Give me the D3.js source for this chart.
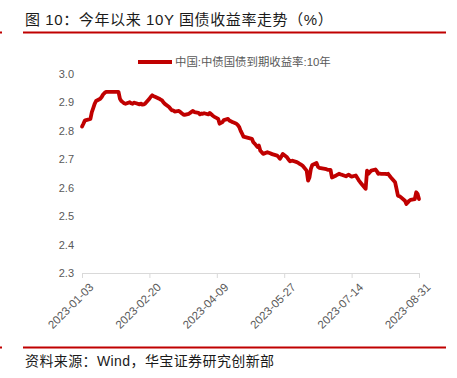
<!DOCTYPE html>
<html>
<head>
<meta charset="utf-8">
<script src="https://cdn.jsdelivr.net/npm/d3@7"></script>
<style>
  body { margin: 0; background: #fff; }
  svg { display: block; font-family: "Liberation Sans", Arial, "Noto Sans CJK SC", sans-serif; }
</style>
</head>
<body>
<div id="chart"></div>
<script>
var title = "图 10：今年以来 10Y 国债收益率走势（%）";
var source = "资料来源：Wind，华宝证券研究创新部";
var seriesName = "中国:中债国债到期收益率:10年";

var yTicks = [2.3, 2.4, 2.5, 2.6, 2.7, 2.8, 2.9, 3.0];
var xTicks = ["2023-01-03", "2023-02-20", "2023-04-09", "2023-05-27", "2023-07-14", "2023-08-31"];

var dates = [
  "2023-01-03","2023-01-04","2023-01-05","2023-01-06","2023-01-09","2023-01-10","2023-01-11","2023-01-12","2023-01-13",
  "2023-01-16","2023-01-17","2023-01-18","2023-01-19","2023-01-20","2023-01-28","2023-01-29","2023-01-30","2023-01-31",
  "2023-02-01","2023-02-02","2023-02-03","2023-02-06","2023-02-07","2023-02-08","2023-02-09","2023-02-10","2023-02-13",
  "2023-02-14","2023-02-15","2023-02-16","2023-02-17","2023-02-20","2023-02-21","2023-02-22","2023-02-23","2023-02-24",
  "2023-02-27","2023-02-28","2023-03-01","2023-03-02","2023-03-03","2023-03-06","2023-03-07","2023-03-08","2023-03-09",
  "2023-03-10","2023-03-13","2023-03-14","2023-03-15","2023-03-16","2023-03-17","2023-03-20","2023-03-21","2023-03-22",
  "2023-03-23","2023-03-24","2023-03-27","2023-03-28","2023-03-29","2023-03-30","2023-03-31","2023-04-03","2023-04-04",
  "2023-04-06","2023-04-07","2023-04-10","2023-04-11","2023-04-12","2023-04-13","2023-04-14","2023-04-17","2023-04-18",
  "2023-04-19","2023-04-20","2023-04-21","2023-04-23","2023-04-24","2023-04-25","2023-04-26","2023-04-27","2023-04-28",
  "2023-05-04","2023-05-05","2023-05-06","2023-05-08","2023-05-09","2023-05-10","2023-05-11","2023-05-12","2023-05-15",
  "2023-05-16","2023-05-17","2023-05-18","2023-05-19","2023-05-22","2023-05-23","2023-05-24","2023-05-25","2023-05-26",
  "2023-05-29","2023-05-30","2023-05-31","2023-06-01","2023-06-02","2023-06-05","2023-06-06","2023-06-07","2023-06-08",
  "2023-06-09","2023-06-12","2023-06-13","2023-06-14","2023-06-15","2023-06-16","2023-06-19","2023-06-20","2023-06-21",
  "2023-06-25","2023-06-26","2023-06-27","2023-06-28","2023-06-29","2023-06-30","2023-07-03","2023-07-04","2023-07-05",
  "2023-07-06","2023-07-07","2023-07-10","2023-07-11","2023-07-12","2023-07-13","2023-07-14","2023-07-17","2023-07-18",
  "2023-07-19","2023-07-20","2023-07-21","2023-07-24","2023-07-25","2023-07-26","2023-07-27","2023-07-28","2023-07-31",
  "2023-08-01","2023-08-02","2023-08-03","2023-08-04","2023-08-07","2023-08-08","2023-08-09","2023-08-10","2023-08-11",
  "2023-08-14","2023-08-15","2023-08-16","2023-08-17","2023-08-18","2023-08-21","2023-08-22","2023-08-23","2023-08-24",
  "2023-08-25","2023-08-28","2023-08-29","2023-08-30","2023-08-31"
];

var yields = [
  2.815,2.825,2.836,2.838,2.842,2.866,2.880,2.895,2.905,
  2.913,2.919,2.928,2.933,2.937,2.937,2.937,2.913,2.905,
  2.901,2.897,2.895,2.901,2.897,2.895,2.899,2.898,2.893,
  2.896,2.892,2.893,2.896,2.913,2.920,2.925,2.922,2.920,
  2.913,2.910,2.907,2.900,2.895,2.884,2.878,2.872,2.872,
  2.868,2.870,2.866,2.862,2.858,2.856,2.860,2.863,2.867,
  2.870,2.866,2.863,2.858,2.861,2.860,2.862,2.858,2.863,
  2.854,2.850,2.842,2.825,2.828,2.831,2.838,2.842,2.836,
  2.834,2.831,2.829,2.825,2.820,2.813,2.800,2.790,2.780,
  2.772,2.760,2.755,2.743,2.748,2.730,2.725,2.719,2.725,
  2.723,2.721,2.719,2.717,2.713,2.708,2.702,2.710,2.719,
  2.707,2.700,2.693,2.694,2.695,2.690,2.687,2.684,2.681,
  2.678,2.660,2.625,2.636,2.666,2.680,2.687,2.674,2.670,
  2.666,2.665,2.663,2.663,2.663,2.636,2.643,2.646,2.649,
  2.647,2.646,2.640,2.643,2.646,2.642,2.639,2.643,2.635,
  2.627,2.620,2.614,2.596,2.660,2.649,2.655,2.660,2.664,
  2.658,2.649,2.650,2.649,2.649,2.648,2.649,2.642,2.636,
  2.619,2.596,2.572,2.570,2.567,2.554,2.543,2.548,2.554,
  2.557,2.560,2.584,2.578,2.560
];

var width = 457, height = 378;
var red = "#c00000", gray = "#595959";
var parse = d3.timeParse("%Y-%m-%d");

var svg = d3.select("#chart")
  .append("svg")
    .attr("width", width)
    .attr("height", height);

// header + footer rules
svg.append("text")
    .attr("x", 25)
    .attr("y", 25)
    .style("font-size", "15px")
    .style("fill", "#1a1a1a")
    .style("letter-spacing", "0.6px")
    .text(title);
[32.5, 347.5].forEach(function(y) {
  svg.append("line")
      .attr("x1", 23).attr("x2", 446)
      .attr("y1", y).attr("y2", y)
      .attr("stroke", red)
      .attr("stroke-width", 2);
  svg.append("rect")
      .attr("x", 0).attr("y", y - 1)
      .attr("width", 2).attr("height", 2)
      .attr("fill", red);
});
svg.append("text")
    .attr("x", 25)
    .attr("y", 366)
    .style("font-size", "14px")
    .style("fill", "#1a1a1a")
    .style("letter-spacing", "0.4px")
    .text(source);

var x = d3.scaleTime()
  .domain([parse(xTicks[0]), parse(xTicks[xTicks.length - 1])])
  .range([82, 419]);
var y = d3.scaleLinear()
  .domain([2.3, 3.0])
  .range([273, 74]);

// x axis
var xAxis = svg.append("g")
    .attr("transform", "translate(0,273)")
    .call(d3.axisBottom(x)
      .tickValues(xTicks.map(parse))
      .tickSize(5)
      .tickFormat(d3.timeFormat("%Y-%m-%d")));
xAxis.select(".domain").attr("stroke", "#d9d9d9");
xAxis.selectAll(".tick line").attr("stroke", "#d9d9d9");
xAxis.selectAll("text")
    .attr("x", 0).attr("y", 0).attr("dy", "0.35em")
    .attr("transform", "translate(9,12)rotate(-45)")
    .style("text-anchor", "end")
    .style("font-size", "11.5px")
    .style("font-family", "'Liberation Sans', Arial, sans-serif")
    .style("fill", gray);

// y axis (labels only)
var yAxis = svg.append("g")
    .attr("transform", "translate(82,0)")
    .call(d3.axisLeft(y)
      .tickValues(yTicks)
      .tickSize(0)
      .tickPadding(8)
      .tickFormat(d3.format(".1f")));
yAxis.select(".domain").remove();
yAxis.selectAll("text")
    .style("font-size", "11px")
    .style("font-family", "'Liberation Sans', Arial, sans-serif")
    .style("fill", gray);

// series
var data = dates.map(function(d, i) { return { date: parse(d), value: yields[i] }; });
svg.append("path")
    .datum(data)
    .attr("fill", "none")
    .attr("stroke", red)
    .attr("stroke-width", 3.8)
    .attr("stroke-linejoin", "round")
    .attr("stroke-linecap", "round")
    .attr("d", d3.line()
      .x(function(d) { return x(d.date); })
      .y(function(d) { return y(d.value); }));

// legend
svg.append("line")
    .attr("x1", 138).attr("x2", 172)
    .attr("y1", 62).attr("y2", 62)
    .attr("stroke", red)
    .attr("stroke-width", 3.8);
svg.append("text")
    .attr("x", 175)
    .attr("y", 66)
    .style("font-size", "11.4px")
    .style("fill", gray)
    .text(seriesName);
</script>
</body>
</html>
